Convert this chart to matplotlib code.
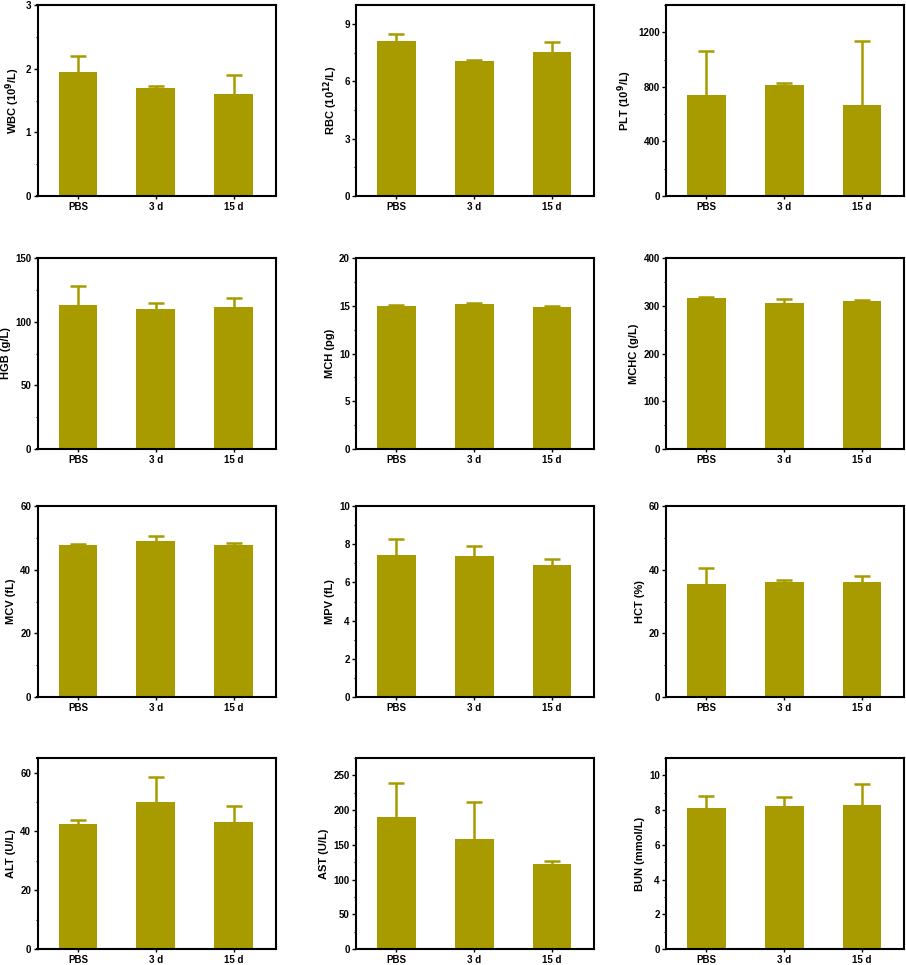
import matplotlib
matplotlib.use("Agg")
import matplotlib.pyplot as plt
from matplotlib.ticker import MultipleLocator, AutoMinorLocator

plt.rcParams['font.family'] = ['Liberation Sans', 'DejaVu Sans']
plt.rcParams['font.weight'] = 'bold'
plt.rcParams['mathtext.default'] = 'bf'

groups = ["PBS", "3 d", "15 d"]

labels = ["WBC (10$^{9}$/L)", "RBC (10$^{12}$/L)", "PLT (10$^{9}$/L)",
          "HGB (g/L)", "MCH (pg)", "MCHC (g/L)",
          "MCV (fL)", "MPV (fL)", "HCT (%)",
          "ALT (U/L)", "AST (U/L)", "BUN (mmol/L)"]

wbc = [1.95, 1.70, 1.60];   wbc_err = [0.25, 0.02, 0.30]
rbc = [8.09, 7.07, 7.54];   rbc_err = [0.41, 0.04, 0.51]
plt_v = [739, 810, 665];    plt_err = [326, 17, 474]
hgb = [112.8, 110.2, 111.3]; hgb_err = [14.9, 4.7, 7.5]
mch = [15.0, 15.15, 14.83]; mch_err = [0.1, 0.15, 0.1]
mchc = [316, 306, 309];     mchc_err = [2, 9, 4]
mcv = [47.8, 49.0, 47.8];   mcv_err = [0.4, 1.6, 0.7]
mpv = [7.42, 7.37, 6.92];   mpv_err = [0.87, 0.52, 0.28]
hct = [35.5, 36.0, 36.0];   hct_err = [5.0, 0.6, 1.9]
alt = [42.7, 50.1, 43.3];   alt_err = [1.1, 8.6, 5.3]
ast = [190, 158, 123];      ast_err = [49, 53, 3.5]
bun = [8.10, 8.23, 8.31];   bun_err = [0.73, 0.54, 1.19]

values = [wbc, rbc, plt_v, hgb, mch, mchc, mcv, mpv, hct, alt, ast, bun]
errors = [wbc_err, rbc_err, plt_err, hgb_err, mch_err, mchc_err,
          mcv_err, mpv_err, hct_err, alt_err, ast_err, bun_err]
ylims = [3, 10, 1400, 150, 20, 400, 60, 10, 60, 65, 275, 11]
majors = [1, 3, 400, 50, 5, 100, 20, 2, 20, 20, 50, 2]

color = "#A89B00"
W, H = 906, 965
fig = plt.figure(figsize=(W / 100, H / 100), dpi=100)

col_left = [37.5, 356, 666]
ax_w = 238
row_top = [5, 258, 506, 758]
ax_h = 191

for i in range(12):
    r, c = divmod(i, 3)
    left = col_left[c] / W
    bottom = 1 - (row_top[r] + ax_h) / H
    ax = fig.add_axes([left, bottom, ax_w / W, ax_h / H])
    x = list(range(len(groups)))
    ax.bar(x, values[i], width=0.5, color=color, zorder=2)
    _, caps, _ = ax.errorbar(x, values[i], yerr=[[0] * 3, errors[i]], fmt='none',
                             ecolor=color, elinewidth=1.8, capsize=6,
                             capthick=1.8, zorder=1)
    caps[0].set_visible(False)
    ax.set_xlim(-0.52, 2.54)
    ax.set_ylim(0, ylims[i])
    ax.yaxis.set_major_locator(MultipleLocator(majors[i]))
    ax.yaxis.set_minor_locator(AutoMinorLocator(2))
    ax.set_xticks(x)
    ax.set_xticklabels(groups, fontsize=7, fontweight='bold')
    for lab in ax.get_yticklabels():
        lab.set_fontsize(7)
        lab.set_fontweight('bold')
    ax.tick_params(axis='y', which='major', direction='out', length=3, width=1, pad=1.5)
    ax.tick_params(axis='y', which='minor', direction='out', length=1.8, width=0.8)
    ax.tick_params(axis='x', which='major', direction='out', length=2.5, width=1, pad=2)
    ax.tick_params(top=False, right=False)
    for s in ax.spines.values():
        s.set_linewidth(1.5)
    ax.set_ylabel(labels[i], fontsize=8, fontweight='bold', labelpad=3)

fig.savefig("out.png", dpi=100)
